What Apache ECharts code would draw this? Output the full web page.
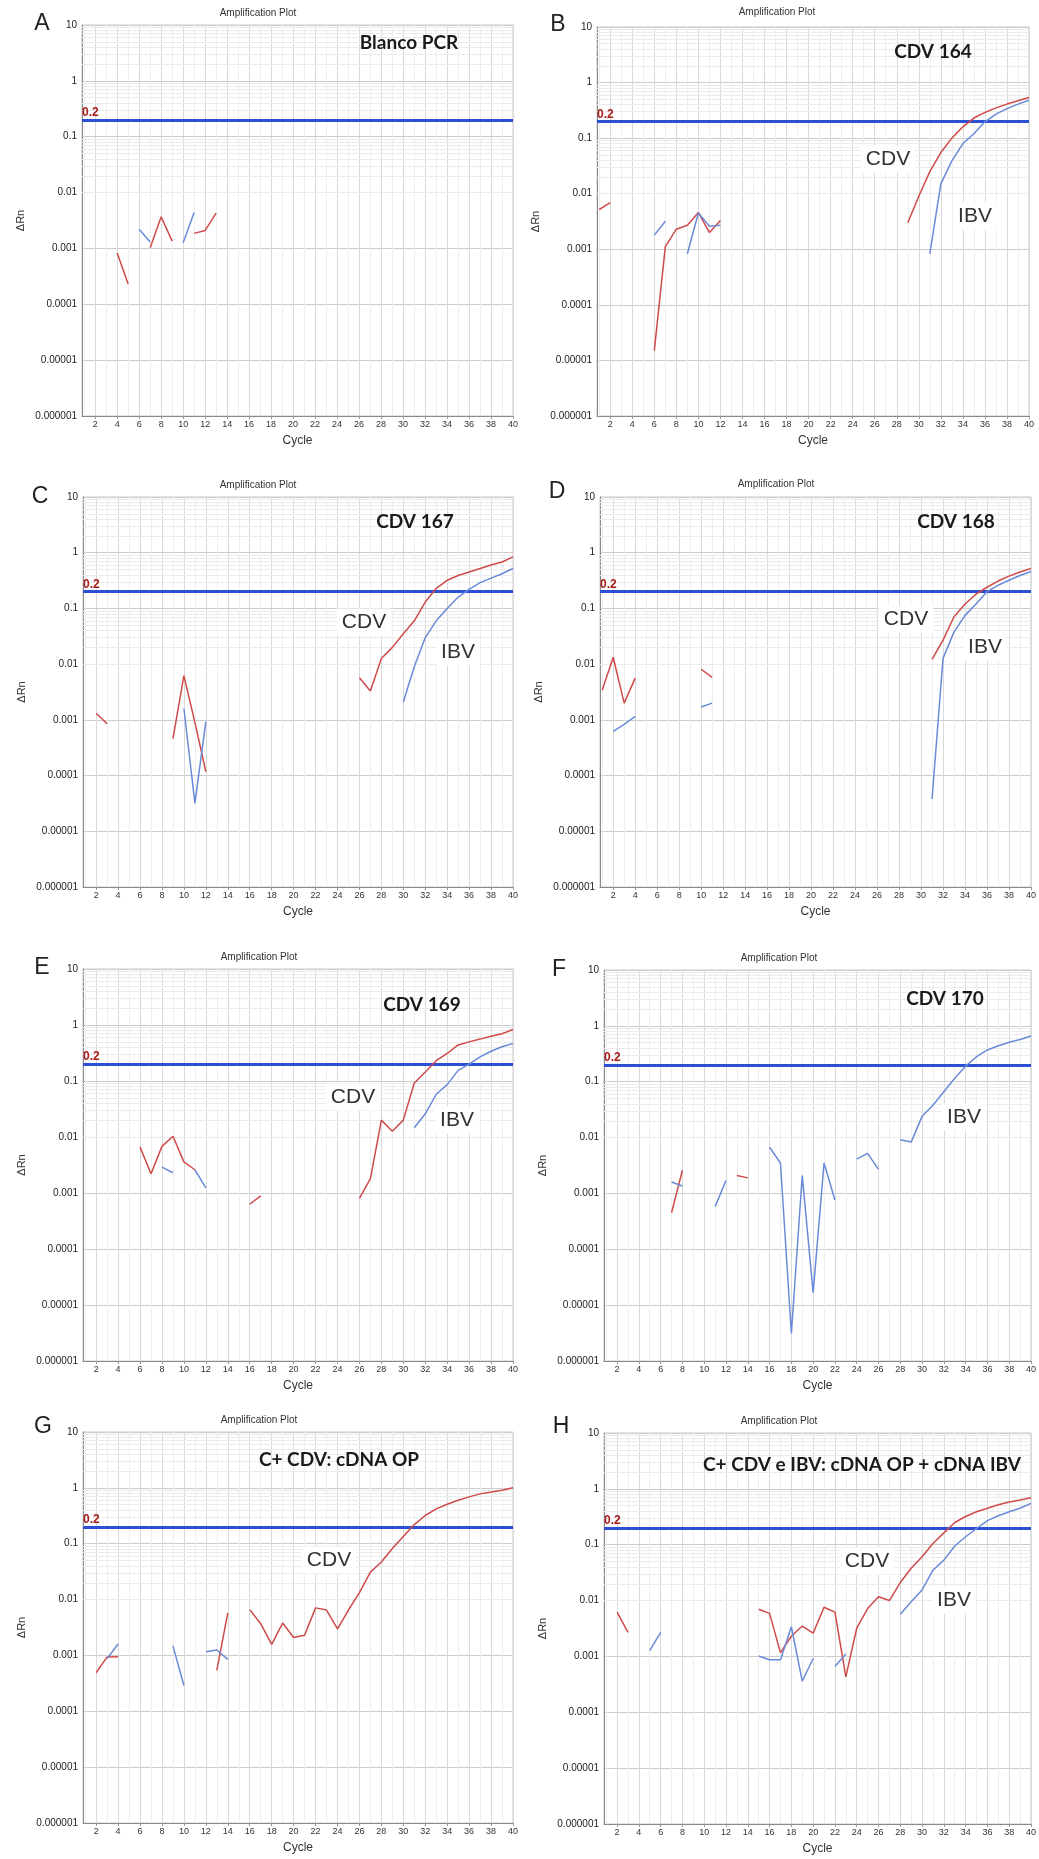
<!DOCTYPE html>
<html>
<head>
<meta charset="utf-8">
<title>Amplification Plot</title>
<script src="https://cdn.jsdelivr.net/npm/echarts@6.0.0/dist/echarts.min.js"></script>
<style>
html, body { margin: 0; padding: 0; background: #fff; }
#container { width: 1039px; height: 1859px; }
</style>
</head>
<body>
<div id="container"></div>
<script>
var N = null;
// cycles (x)
var cycles = [1, 2, 3, 4, 5, 6, 7, 8, 9, 10, 11, 12, 13, 14, 15, 16, 17, 18, 19, 20,
  21, 22, 23, 24, 25, 26, 27, 28, 29, 30, 31, 32, 33, 34, 35, 36, 37, 38, 39, 40];
var xTicks = [2, 4, 6, 8, 10, 12, 14, 16, 18, 20, 22, 24, 26, 28, 30, 32, 34, 36, 38, 40];
var threshold = 0.2;

// A - Blanco PCR
var aCdv = [N, N, N, 0.00083, 0.00023, N, 0.00103, 0.0037, 0.00135, N,
  0.00186, 0.0021, 0.0043, N, N, N, N, N, N, N,
  N, N, N, N, N, N, N, N, N, N,
  N, N, N, N, N, N, N, N, N, N];
var aIbv = [N, N, N, N, N, 0.0022, 0.0013, N, N, 0.00126,
  0.0044, N, N, N, N, N, N, N, N, N,
  N, N, N, N, N, N, N, N, N, N,
  N, N, N, N, N, N, N, N, N, N];

// B - CDV 164
var bCdv = [0.0052, 0.0069, N, N, N, 0.000015, 0.00112, 0.0023, 0.0027, 0.0046,
  0.0020, 0.0033, N, N, N, N, N, N, N, N,
  N, N, N, N, N, N, N, N, 0.003, 0.009,
  0.025, 0.055, 0.1, 0.16, 0.23, 0.29, 0.35, 0.41, 0.47, 0.54];
var bIbv = [N, N, N, N, N, 0.0018, 0.0032, N, 0.00083, 0.0045,
  0.0026, 0.0027, N, N, N, N, N, N, N, N,
  N, N, N, N, N, N, N, N, N, N,
  0.00083, 0.015, 0.039, 0.08, 0.12, 0.197, 0.27, 0.34, 0.41, 0.48];

// C - CDV 167
var cCdv = [N, 0.00131, 0.00085, N, N, N, N, N, 0.00046, 0.0062,
  0.0009, 0.000117, N, N, N, N, N, N, N, N,
  N, N, N, N, N, 0.0057, 0.0033, 0.0126, 0.02, 0.035,
  0.06, 0.13, 0.23, 0.32, 0.39, 0.45, 0.52, 0.6, 0.68, 0.84];
var cIbv = [N, N, N, N, N, N, N, N, N, 0.0016,
  0.000032, 0.00093, N, N, N, N, N, N, N, N,
  N, N, N, N, N, N, N, N, N, 0.0021,
  0.009, 0.03, 0.06, 0.1, 0.16, 0.22, 0.29, 0.35, 0.42, 0.52];

// D - CDV 168
var dCdv = [0.0034, 0.0133, 0.0020, 0.0056, N, N, N, N, N, 0.0081,
  0.0058, N, N, N, N, N, N, N, N, N,
  N, N, N, N, N, N, N, N, N, N,
  0.0122, 0.027, 0.071, 0.12, 0.18, 0.24, 0.31, 0.38, 0.45, 0.52];
var dIbv = [N, 0.00062, 0.00083, 0.00115, N, N, N, N, N, 0.0017,
  0.0020, N, N, N, N, N, N, N, N, N,
  N, N, N, N, N, N, N, N, N, N,
  0.000038, 0.0127, 0.038, 0.075, 0.12, 0.2, 0.26, 0.32, 0.39, 0.46];

// E - CDV 169
var eCdv = [N, N, N, N, N, 0.0066, 0.0022, 0.0068, 0.0103, 0.0036,
  0.0026, N, N, N, N, 0.00063, 0.00089, N, N, N,
  N, N, N, N, N, 0.0008, 0.0018, 0.020, 0.0127, 0.020,
  0.092, 0.145, 0.23, 0.31, 0.44, 0.5, 0.56, 0.63, 0.7, 0.83];
var eIbv = [N, N, N, N, N, N, N, 0.0029, 0.0023, N,
  0.0026, 0.00123, N, N, N, N, N, N, N, N,
  N, N, N, N, N, N, N, N, N, N,
  0.0146, 0.026, 0.058, 0.086, 0.155, 0.2, 0.27, 0.34, 0.41, 0.47];

// F - CDV 170
var fCdv = [N, N, N, N, N, N, 0.00045, 0.0026, N, N,
  N, N, 0.0021, 0.0019, N, N, N, N, N, N,
  N, N, N, N, N, N, N, N, N, N,
  N, N, N, N, N, N, N, N, N, N];
var fIbv = [N, N, N, N, N, N, 0.0016, 0.00136, N, N,
  0.00058, 0.0017, N, N, N, 0.0067, 0.0035, 0.0000031, 0.0021, 0.0000167,
  0.0035, 0.00076, N, 0.0041, 0.0052, 0.0027, N, 0.0091, 0.0083, 0.024,
  0.038, 0.066, 0.115, 0.19, 0.28, 0.37, 0.44, 0.51, 0.57, 0.66];

// G - C+ CDV
var gCdv = [N, 0.00049, 0.00094, 0.00095, N, N, N, N, N, N,
  N, N, 0.00054, 0.0058, N, 0.0066, 0.0037, 0.00158, 0.0038, 0.0021,
  0.0023, 0.0071, 0.0065, 0.0030, 0.0065, 0.0133, 0.031, 0.047, 0.082, 0.135,
  0.22, 0.32, 0.42, 0.51, 0.6, 0.69, 0.78, 0.84, 0.91, 1.0];
var gIbv = [N, N, 0.00088, 0.0016, N, N, N, N, 0.00148, 0.00029,
  N, 0.00116, 0.00125, 0.00085, N, N, N, N, N, N,
  N, N, N, N, N, N, N, N, N, N,
  N, N, N, N, N, N, N, N, N, N];

// H - C+ CDV e IBV
var hCdv = [N, 0.0062, 0.0027, N, N, N, N, N, N, N,
  N, N, N, N, 0.0070, 0.0059, 0.00117, 0.0023, 0.0035, 0.0026,
  0.0076, 0.0062, 0.00043, 0.0032, 0.0072, 0.0117, 0.0100, 0.021, 0.038, 0.061,
  0.105, 0.163, 0.25, 0.32, 0.39, 0.45, 0.52, 0.58, 0.63, 0.69];
var hIbv = [N, N, N, N, 0.00127, 0.0027, N, N, N, N,
  N, N, N, N, 0.00102, 0.00087, 0.00087, 0.0034, 0.00036, 0.00092,
  N, 0.00066, 0.0011, N, N, N, N, 0.0057, 0.0095, 0.0155,
  0.035, 0.053, 0.095, 0.139, 0.195, 0.27, 0.33, 0.39, 0.45, 0.55];

// 面板: 位置 / 文字
var panels = [
  {letter: 'A', sub: 'Blanco PCR', cdv: aCdv, ibv: aIbv, box: [82, 25, 431, 391],
    letterXY: [42, 24], titleXY: [258, 13], subXY: [409, 43]},
  {letter: 'B', sub: 'CDV 164', cdv: bCdv, ibv: bIbv, box: [597, 27, 432, 389],
    letterXY: [558, 25], titleXY: [777, 12], subXY: [933, 52], cdvXY: [888, 159], ibvXY: [975, 216]},
  {letter: 'C', sub: 'CDV 167', cdv: cCdv, ibv: cIbv, box: [83, 497, 430, 390],
    letterXY: [40, 497], titleXY: [258, 485], subXY: [415, 522], cdvXY: [364, 622], ibvXY: [458, 652]},
  {letter: 'D', sub: 'CDV 168', cdv: dCdv, ibv: dIbv, box: [600, 497, 431, 390],
    letterXY: [557, 492], titleXY: [776, 484], subXY: [956, 522], cdvXY: [906, 619], ibvXY: [985, 647]},
  {letter: 'E', sub: 'CDV 169', cdv: eCdv, ibv: eIbv, box: [83, 969, 430, 392],
    letterXY: [42, 968], titleXY: [259, 957], subXY: [422, 1005], cdvXY: [353, 1097], ibvXY: [457, 1120]},
  {letter: 'F', sub: 'CDV 170', cdv: fCdv, ibv: fIbv, box: [604, 970, 428, 391],
    letterXY: [559, 970], titleXY: [779, 958], subXY: [945, 999], ibvXY: [964, 1117]},
  {letter: 'G', sub: 'C+ CDV: cDNA OP', cdv: gCdv, ibv: gIbv, box: [83, 1432, 430, 391],
    letterXY: [43, 1427], titleXY: [259, 1420], subXY: [339, 1460], cdvXY: [329, 1560]},
  {letter: 'H', sub: 'C+ CDV e IBV: cDNA OP + cDNA IBV', cdv: hCdv, ibv: hIbv, box: [604, 1433, 428, 391],
    letterXY: [561, 1427], titleXY: [779, 1421], subXY: [862, 1465], cdvXY: [867, 1561], ibvXY: [954, 1600]}
];

var dom = document.getElementById('container');
var myChart = echarts.init(dom);

// 网格线 (log minor lines + cycle lines)
var gridLines = [];
for (var c = 1; c <= 40; c++) {
  gridLines.push({xAxis: c, lineStyle: {color: c % 2 == 0 ? '#d9d9d9' : '#eeeeee', width: 1, type: 'solid'}});
}
for (var e = -6; e < 1; e++) {
  for (var k = 2; k <= 9; k++) {
    gridLines.push({yAxis: k * Math.pow(10, e), lineStyle: {color: '#ebebeb', width: 1, type: 'solid'}});
  }
}

function fmtLog(v) {
  var ex = Math.round(Math.log(v) / Math.LN10);
  if (ex >= 0) return String(Math.round(v));
  return v.toFixed(-ex);
}

function toPairs(arr) {
  return cycles.map(function (cy, i) { return [cy, arr[i]]; });
}

var grids = [], xAxes = [], yAxes = [], series = [], graphics = [];
var font = '"Liberation Sans", Arial, sans-serif';

panels.forEach(function (p, i) {
  grids.push({
    left: p.box[0], top: p.box[1], width: p.box[2], height: p.box[3],
    show: true, borderColor: '#c8c8c8', borderWidth: 1, backgroundColor: '#fff'
  });
  xAxes.push({
    gridIndex: i, type: 'value', min: 0.8, max: 40,
    name: 'Cycle', nameLocation: 'middle', nameGap: 19,
    nameTextStyle: {fontSize: 12, color: '#333', fontFamily: font},
    axisLine: {show: true, lineStyle: {color: '#8a8a8a'}},
    axisTick: {show: true, customValues: xTicks, length: 3, lineStyle: {color: '#999'}},
    axisLabel: {customValues: xTicks, fontSize: 9, color: '#333', margin: 4, fontFamily: font},
    splitLine: {show: false}
  });
  yAxes.push({
    gridIndex: i, type: 'log', logBase: 10, min: 0.000001, max: 10, splitNumber: 7,
    name: 'ΔRn', nameLocation: 'middle', nameGap: 56, nameRotate: 90,
    nameTextStyle: {fontSize: 11, color: '#333', fontFamily: font},
    axisLine: {show: true, lineStyle: {color: '#8a8a8a'}},
    axisTick: {show: false},
    axisLabel: {formatter: fmtLog, fontSize: 10, color: '#222', margin: 5, fontFamily: font},
    splitLine: {show: true, lineStyle: {color: '#cccccc'}}
  });
  // 网格
  series.push({
    type: 'line', xAxisIndex: i, yAxisIndex: i, data: [], silent: true, z: 1,
    markLine: {silent: true, z: 1, symbol: ['none', 'none'], animation: false, label: {show: false}, data: gridLines}
  });
  // 阈值 0.2
  series.push({
    type: 'line', xAxisIndex: i, yAxisIndex: i, data: [], silent: true, z: 3,
    markLine: {
      silent: true, z: 3, symbol: ['none', 'none'], animation: false,
      lineStyle: {color: '#2c4fd4', width: 3, type: 'solid'},
      label: {show: true, position: 'insideStartTop', formatter: '0.2', color: '#a81c1c',
        fontWeight: 'bold', fontSize: 12, fontFamily: font, distance: [0, 1]},
      data: [{yAxis: threshold}]
    }
  });
  series.push({
    name: 'CDV', type: 'line', xAxisIndex: i, yAxisIndex: i, data: toPairs(p.cdv),
    showSymbol: false, symbol: 'none', silent: true, z: 6,
    lineStyle: {color: '#cf4a4a', width: 1.5}, itemStyle: {color: '#cf4a4a'}
  });
  series.push({
    name: 'IBV', type: 'line', xAxisIndex: i, yAxisIndex: i, data: toPairs(p.ibv),
    showSymbol: false, symbol: 'none', silent: true, z: 6,
    lineStyle: {color: '#6a8ad8', width: 1.5}, itemStyle: {color: '#6a8ad8'}
  });

  graphics.push({type: 'text', x: p.letterXY[0], y: p.letterXY[1], z: 100,
    style: {text: p.letter, fill: '#222', font: '23px ' + font, align: 'center', verticalAlign: 'middle'}});
  graphics.push({type: 'text', x: p.titleXY[0], y: p.titleXY[1], z: 100,
    style: {text: 'Amplification Plot', fill: '#333', font: '10px ' + font, align: 'center', verticalAlign: 'middle'}});
  graphics.push({type: 'text', x: p.subXY[0], y: p.subXY[1], z: 100,
    style: {text: p.sub, fill: '#1a1a1a', font: 'bold 19px Lato, "Open Sans", sans-serif', align: 'center', verticalAlign: 'middle'}});
  if (p.cdvXY) {
    graphics.push({type: 'text', x: p.cdvXY[0], y: p.cdvXY[1], z: 100,
      style: {text: 'CDV', fill: '#333', font: '21px ' + font, align: 'center', verticalAlign: 'middle',
        backgroundColor: '#fff', padding: [3, 5]}});
  }
  if (p.ibvXY) {
    graphics.push({type: 'text', x: p.ibvXY[0], y: p.ibvXY[1], z: 100,
      style: {text: 'IBV', fill: '#333', font: '21px ' + font, align: 'center', verticalAlign: 'middle',
        backgroundColor: '#fff', padding: [3, 5]}});
  }
});

myChart.setOption({
  animation: false,
  backgroundColor: '#fff',
  textStyle: {fontFamily: font},
  grid: grids,
  xAxis: xAxes,
  yAxis: yAxes,
  series: series,
  graphic: graphics
});
</script>
</body>
</html>
